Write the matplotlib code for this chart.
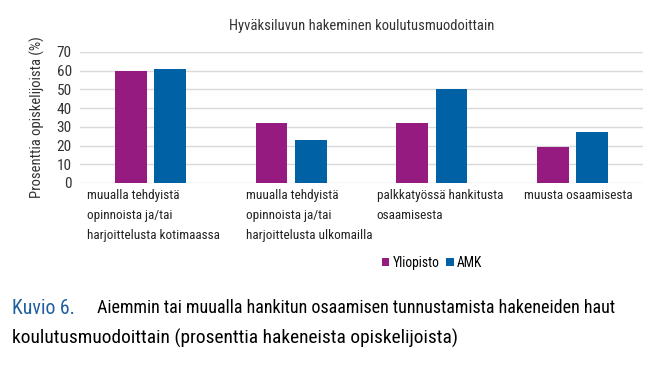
import matplotlib
matplotlib.use("Agg")
import matplotlib.pyplot as plt
from matplotlib import font_manager
import numpy as np

# -----------------------
# Data
# -----------------------
categories = [
    "muualla tehdyistä\nopinnoista ja/tai\nharjoittelusta kotimaassa",
    "muualla tehdyistä\nopinnoista ja/tai\nharjoittelusta ulkomailla",
    "palkkatyössä hankitusta\nosaamisesta",
    "muusta osaamisesta",
]
yliopisto = [60, 32, 32, 19]
amk = [61, 23, 50, 27]
series_names = ["Yliopisto", "AMK"]
colors = ["#951b81", "#0062a4"]

# pick a narrow font if one is installed
names = {f.name for f in font_manager.fontManager.ttflist}
font = "DejaVu Sans"
for cand in ["Liberation Sans Narrow", "DejaVu Sans Condensed", "Roboto Condensed"]:
    if cand in names:
        font = cand
        break
plt.rcParams["font.family"] = [font, "DejaVu Sans"]

# -----------------------
# Plot
# -----------------------
fig = plt.figure(figsize=(6.64, 3.67), dpi=100)
ax = fig.add_axes([80 / 664, 1 - 183 / 367, 563 / 664, 131 / 367])

x = np.arange(len(categories))
width = 0.225
off = 0.14
ax.bar(x - off, yliopisto, width, color=colors[0], label=series_names[0], zorder=3)
ax.bar(x + off, amk, width, color=colors[1], label=series_names[1], zorder=3)

ax.set_xlim(-0.5, len(categories) - 0.5)
ax.set_ylim(0, 70)
ax.set_yticks(range(0, 71, 10))
ax.grid(axis="y", color="#d9d9d9", linewidth=1, zorder=0)
for s in ax.spines.values():
    s.set_visible(False)
ax.tick_params(axis="y", length=0, labelsize=11, pad=6, labelcolor="#333333")
ax.set_xticks([])

# category labels, left aligned under each group
label_x = [-0.452, 0.682, 1.609, 2.655]
for lx, lab in zip(label_x, categories):
    ax.text(lx, -3.2, lab, ha="left", va="top", fontsize=9.5,
            linespacing=1.7, color="#222222")

ax.set_ylabel("Prosenttia opiskelijoista (%)", fontsize=10.5, color="#333333",
              labelpad=8)
ax.set_title("Hyväksiluvun hakeminen koulutusmuodoittain", fontsize=10.5,
             color="#333333", pad=16)

fig.legend(loc="center", bbox_to_anchor=(432 / 664, 1 - 263 / 367),
           ncol=2, frameon=False, fontsize=9.8, handlelength=0.55,
           handleheight=0.55, handletextpad=0.25, columnspacing=0.5)

# caption
fig.text(12 / 664, 1 - 308 / 367, "Kuvio 6.", color="#1f5f9e", fontsize=14.3,
         va="center", ha="left")
fig.text(97 / 664, 1 - 308 / 367,
         "Aiemmin tai muualla hankitun osaamisen tunnustamista hakeneiden haut",
         color="black", fontsize=13.0, va="center", ha="left")
fig.text(12 / 664, 1 - 338 / 367,
         "koulutusmuodoittain (prosenttia hakeneista opiskelijoista)",
         color="black", fontsize=13.95, va="center", ha="left")

fig.savefig("out.png", dpi=100)
